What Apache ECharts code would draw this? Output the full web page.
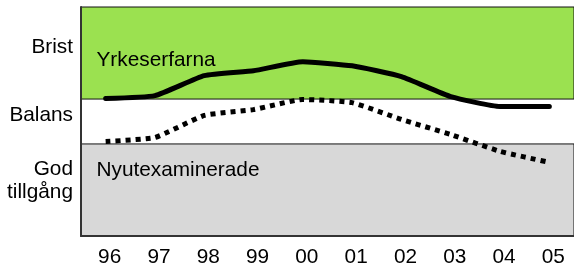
<!DOCTYPE html>
<html>
<head>
<meta charset="utf-8">
<script src="https://cdn.jsdelivr.net/npm/echarts@6/dist/echarts.min.js"></script>
<style>
  html, body { margin: 0; padding: 0; background: #fff; }
  #chart { width: 574px; height: 268px; }
</style>
</head>
<body>
<div id="chart"></div>
<script>
const years = ['96', '97', '98', '99', '00', '01', '02', '03', '04', '05']
// 0 = balans, +1/-1 = band edges
const yrkeserfarna = [1.02, 1.15, 2.04, 2.26, 2.66, 2.48, 2.0, 1.11, 0.67, 0.67]
const nyutexaminerade = [-0.89, -0.71, 0.27, 0.53, 0.98, 0.84, 0.09, -0.58, -1.33, -1.82]
const levelValues = [3.3, 0.28, -2.64]
const levelNames = ['Brist', 'Balans', 'God\ntillgång']

const font = 'Liberation Sans, Arial, Helvetica, sans-serif'
const fs = 20.8

const chart = echarts.init(document.getElementById('chart'))
chart.setOption({
  animation: false,
  grid: { left: 81, top: 7, right: -7, bottom: 31 },
  xAxis: {
    type: 'category',
    data: years,
    boundaryGap: true,
    axisLine: { onZero: false, lineStyle: { color: '#333', width: 2 } },
    axisTick: { inside: true, length: 5, lineStyle: { color: '#444', width: 1 } },
    axisLabel: {
      color: '#000', fontSize: fs, fontFamily: font, margin: 11,
      padding: [0, 0, 0, 8]
    },
    z: 5
  },
  yAxis: {
    type: 'value',
    min: -5.1,
    max: 5.1,
    splitLine: { show: false },
    axisTick: { show: false },
    axisLine: { show: true, lineStyle: { color: '#333', width: 2 } },
    axisLabel: {
      customValues: levelValues,
      formatter: v => {
        const i = levelValues.findIndex(x => Math.abs(x - v) < 1e-6)
        return i >= 0 ? levelNames[i] : ''
      },
      color: '#000', fontSize: fs, fontFamily: font, margin: 8,
      lineHeight: 23, align: 'right'
    },
    z: 5
  },
  series: [
    {
      type: 'line',
      data: [],
      silent: true,
      markArea: {
        silent: true,
        itemStyle: { borderColor: '#111', borderWidth: 1 },
        label: {
          color: '#000', fontSize: fs, fontFamily: font,
          align: 'left', verticalAlign: 'middle'
        },
        data: [
          [
            { yAxis: 1, itemStyle: { color: '#9be150' },
              label: { position: [16, 54] }, name: 'Yrkeserfarna' },
            { yAxis: 5.1 }
          ],
          [
            { yAxis: -5.1, itemStyle: { color: '#d8d8d8' },
              label: { position: [16, 27] }, name: 'Nyutexaminerade' },
            { yAxis: -1 }
          ]
        ]
      }
    },
    {
      name: 'Yrkeserfarna',
      type: 'line',
      data: yrkeserfarna,
      symbol: 'none',
      smooth: 0.15,
      z: 4,
      lineStyle: { color: '#000', width: 5, cap: 'round', join: 'round' }
    },
    {
      name: 'Nyutexaminerade',
      type: 'line',
      data: nyutexaminerade,
      symbol: 'none',
      smooth: 0.15,
      z: 4,
      lineStyle: { color: '#000', width: 5, type: [5, 5], cap: 'butt' }
    }
  ]
})
</script>
</body>
</html>
